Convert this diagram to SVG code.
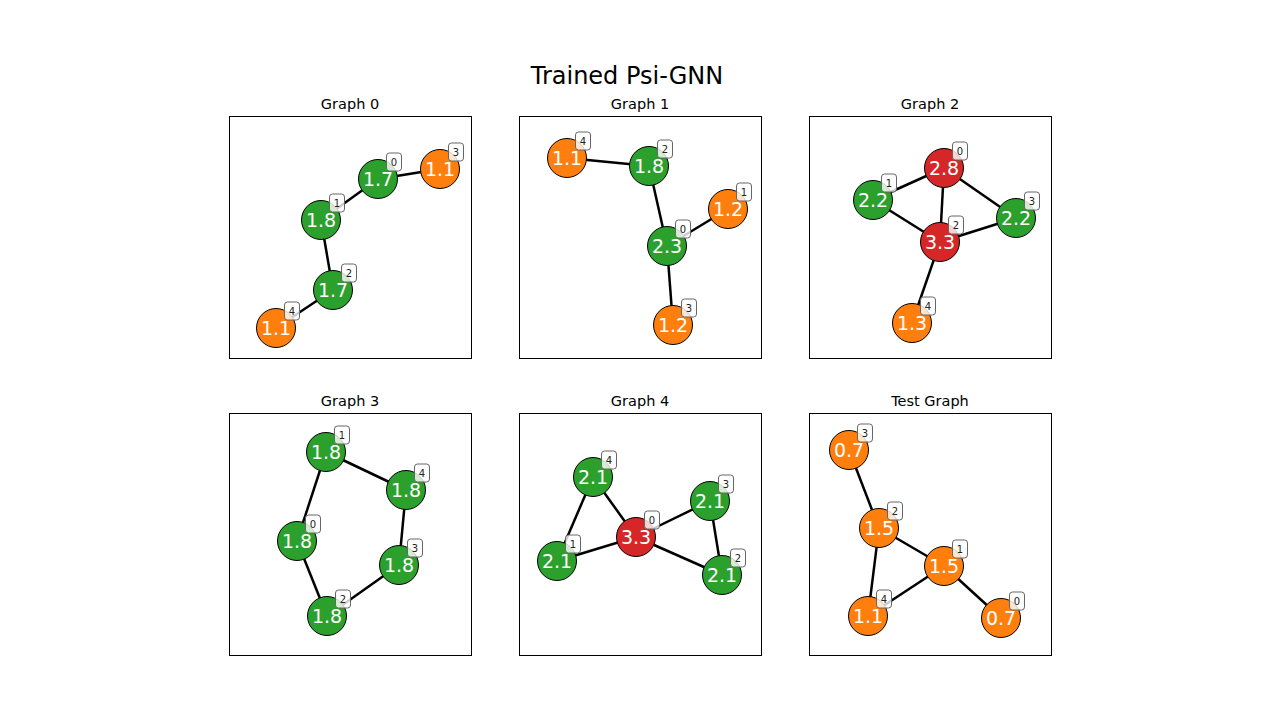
<svg xmlns="http://www.w3.org/2000/svg" width="1280" height="720" viewBox="0 0 1280 720">
<style>
text{font-family:"DejaVu Sans","Liberation Sans",sans-serif}
.ttl{font-size:24px;fill:#000;text-anchor:middle}
.sub{font-size:14.5px;fill:#000;text-anchor:middle}
.ax{fill:#fff;stroke:#000;stroke-width:1}
.e{stroke:#000;stroke-width:2.5;fill:none}
.n circle{stroke:#000;stroke-width:1}
.g{fill:#2ca02c}.o{fill:#ff7f0e}.r{fill:#d62728}
.v{font-size:19px;fill:#fff;text-anchor:middle;dominant-baseline:central}
.ib{fill:#fff;fill-opacity:0.8;stroke:#666;stroke-width:1}
.it{font-size:10px;fill:#222;text-anchor:middle;dominant-baseline:central}
</style>
<rect width="1280" height="720" fill="#fff"/>
<text class="ttl" x="627" y="84">Trained Psi-GNN</text>
<g id="axes">
<rect class="ax" x="229.5" y="116.5" width="242" height="242"/>
<rect class="ax" x="519.5" y="116.5" width="242" height="242"/>
<rect class="ax" x="809.5" y="116.5" width="242" height="242"/>
<rect class="ax" x="229.5" y="413.5" width="242" height="242"/>
<rect class="ax" x="519.5" y="413.5" width="242" height="242"/>
<rect class="ax" x="809.5" y="413.5" width="242" height="242"/>
<text class="sub" x="350" y="109">Graph 0</text>
<text class="sub" x="640" y="109">Graph 1</text>
<text class="sub" x="930" y="109">Graph 2</text>
<text class="sub" x="350" y="406">Graph 3</text>
<text class="sub" x="640" y="406">Graph 4</text>
<text class="sub" x="930" y="406">Test Graph</text>
</g>
<g id="connectors">
<!-- Graph 0 -->
<line class="e" x1="378" y1="179" x2="440" y2="169"/>
<line class="e" x1="378" y1="179" x2="321" y2="220"/>
<line class="e" x1="321" y1="220" x2="333" y2="290"/>
<line class="e" x1="333" y1="290" x2="276" y2="328"/>
<!-- Graph 1 -->
<line class="e" x1="567" y1="158" x2="649" y2="166"/>
<line class="e" x1="649" y1="166" x2="667" y2="246"/>
<line class="e" x1="667" y1="246" x2="728" y2="209"/>
<line class="e" x1="667" y1="246" x2="673" y2="325"/>
<!-- Graph 2 -->
<line class="e" x1="873" y1="200" x2="944" y2="168"/>
<line class="e" x1="944" y1="168" x2="1016" y2="218"/>
<line class="e" x1="944" y1="168" x2="940" y2="242"/>
<line class="e" x1="873" y1="200" x2="940" y2="242"/>
<line class="e" x1="940" y1="242" x2="1016" y2="218"/>
<line class="e" x1="940" y1="242" x2="912" y2="323"/>
<!-- Graph 3 -->
<line class="e" x1="326" y1="452" x2="297" y2="541"/>
<line class="e" x1="326" y1="452" x2="406" y2="490"/>
<line class="e" x1="406" y1="490" x2="399" y2="565"/>
<line class="e" x1="399" y1="565" x2="327" y2="616"/>
<line class="e" x1="297" y1="541" x2="327" y2="616"/>
<!-- Graph 4 -->
<line class="e" x1="593" y1="477" x2="557" y2="561"/>
<line class="e" x1="593" y1="477" x2="636" y2="537"/>
<line class="e" x1="557" y1="561" x2="636" y2="537"/>
<line class="e" x1="636" y1="537" x2="710" y2="501"/>
<line class="e" x1="636" y1="537" x2="722" y2="575"/>
<line class="e" x1="710" y1="501" x2="722" y2="575"/>
<!-- Test Graph -->
<line class="e" x1="849" y1="450" x2="879" y2="528"/>
<line class="e" x1="879" y1="528" x2="944" y2="566"/>
<line class="e" x1="879" y1="528" x2="868" y2="616"/>
<line class="e" x1="868" y1="616" x2="944" y2="566"/>
<line class="e" x1="944" y1="566" x2="1001" y2="618"/>
</g>
<defs>
<g id="ib"><rect class="ib" x="-7.5" y="-9" width="15" height="18" rx="3"/></g>
</defs>
<!-- Graph 0 nodes -->
<g id="g0n0" class="n"><circle class="g" cx="378" cy="179" r="19.5"/><text class="v" x="378" y="179">1.7</text><use href="#ib" x="394" y="162"/><text class="it" x="394" y="162">0</text></g>
<g id="g0n1" class="n"><circle class="g" cx="321" cy="220" r="19.5"/><text class="v" x="321" y="220">1.8</text><use href="#ib" x="337" y="203"/><text class="it" x="337" y="203">1</text></g>
<g id="g0n2" class="n"><circle class="g" cx="333" cy="290" r="19.5"/><text class="v" x="333" y="290">1.7</text><use href="#ib" x="349" y="273"/><text class="it" x="349" y="273">2</text></g>
<g id="g0n3" class="n"><circle class="o" cx="440" cy="169" r="19.5"/><text class="v" x="440" y="169">1.1</text><use href="#ib" x="456" y="152"/><text class="it" x="456" y="152">3</text></g>
<g id="g0n4" class="n"><circle class="o" cx="276" cy="328" r="19.5"/><text class="v" x="276" y="328">1.1</text><use href="#ib" x="292" y="311"/><text class="it" x="292" y="311">4</text></g>
<!-- Graph 1 nodes -->
<g id="g1n0" class="n"><circle class="g" cx="667" cy="246" r="19.5"/><text class="v" x="667" y="246">2.3</text><use href="#ib" x="683" y="229"/><text class="it" x="683" y="229">0</text></g>
<g id="g1n1" class="n"><circle class="o" cx="728" cy="209" r="19.5"/><text class="v" x="728" y="209">1.2</text><use href="#ib" x="744" y="192"/><text class="it" x="744" y="192">1</text></g>
<g id="g1n2" class="n"><circle class="g" cx="649" cy="166" r="19.5"/><text class="v" x="649" y="166">1.8</text><use href="#ib" x="665" y="149"/><text class="it" x="665" y="149">2</text></g>
<g id="g1n3" class="n"><circle class="o" cx="673" cy="325" r="19.5"/><text class="v" x="673" y="325">1.2</text><use href="#ib" x="689" y="308"/><text class="it" x="689" y="308">3</text></g>
<g id="g1n4" class="n"><circle class="o" cx="567" cy="158" r="19.5"/><text class="v" x="567" y="158">1.1</text><use href="#ib" x="583" y="141"/><text class="it" x="583" y="141">4</text></g>
<!-- Graph 2 nodes -->
<g id="g2n0" class="n"><circle class="r" cx="944" cy="168" r="19.5"/><text class="v" x="944" y="168">2.8</text><use href="#ib" x="960" y="151"/><text class="it" x="960" y="151">0</text></g>
<g id="g2n1" class="n"><circle class="g" cx="873" cy="200" r="19.5"/><text class="v" x="873" y="200">2.2</text><use href="#ib" x="889" y="183"/><text class="it" x="889" y="183">1</text></g>
<g id="g2n2" class="n"><circle class="r" cx="940" cy="242" r="19.5"/><text class="v" x="940" y="242">3.3</text><use href="#ib" x="956" y="225"/><text class="it" x="956" y="225">2</text></g>
<g id="g2n3" class="n"><circle class="g" cx="1016" cy="218" r="19.5"/><text class="v" x="1016" y="218">2.2</text><use href="#ib" x="1032" y="201"/><text class="it" x="1032" y="201">3</text></g>
<g id="g2n4" class="n"><circle class="o" cx="912" cy="323" r="19.5"/><text class="v" x="912" y="323">1.3</text><use href="#ib" x="928" y="306"/><text class="it" x="928" y="306">4</text></g>
<!-- Graph 3 nodes -->
<g id="g3n0" class="n"><circle class="g" cx="297" cy="541" r="19.5"/><text class="v" x="297" y="541">1.8</text><use href="#ib" x="313" y="524"/><text class="it" x="313" y="524">0</text></g>
<g id="g3n1" class="n"><circle class="g" cx="326" cy="452" r="19.5"/><text class="v" x="326" y="452">1.8</text><use href="#ib" x="342" y="435"/><text class="it" x="342" y="435">1</text></g>
<g id="g3n2" class="n"><circle class="g" cx="327" cy="616" r="19.5"/><text class="v" x="327" y="616">1.8</text><use href="#ib" x="343" y="599"/><text class="it" x="343" y="599">2</text></g>
<g id="g3n3" class="n"><circle class="g" cx="399" cy="565" r="19.5"/><text class="v" x="399" y="565">1.8</text><use href="#ib" x="415" y="548"/><text class="it" x="415" y="548">3</text></g>
<g id="g3n4" class="n"><circle class="g" cx="406" cy="490" r="19.5"/><text class="v" x="406" y="490">1.8</text><use href="#ib" x="422" y="473"/><text class="it" x="422" y="473">4</text></g>
<!-- Graph 4 nodes -->
<g id="g4n0" class="n"><circle class="r" cx="636" cy="537" r="19.5"/><text class="v" x="636" y="537">3.3</text><use href="#ib" x="652" y="520"/><text class="it" x="652" y="520">0</text></g>
<g id="g4n1" class="n"><circle class="g" cx="557" cy="561" r="19.5"/><text class="v" x="557" y="561">2.1</text><use href="#ib" x="573" y="544"/><text class="it" x="573" y="544">1</text></g>
<g id="g4n2" class="n"><circle class="g" cx="722" cy="575" r="19.5"/><text class="v" x="722" y="575">2.1</text><use href="#ib" x="738" y="558"/><text class="it" x="738" y="558">2</text></g>
<g id="g4n3" class="n"><circle class="g" cx="710" cy="501" r="19.5"/><text class="v" x="710" y="501">2.1</text><use href="#ib" x="726" y="484"/><text class="it" x="726" y="484">3</text></g>
<g id="g4n4" class="n"><circle class="g" cx="593" cy="477" r="19.5"/><text class="v" x="593" y="477">2.1</text><use href="#ib" x="609" y="460"/><text class="it" x="609" y="460">4</text></g>
<!-- Test Graph nodes -->
<g id="g5n0" class="n"><circle class="o" cx="1001" cy="618" r="19.5"/><text class="v" x="1001" y="618">0.7</text><use href="#ib" x="1017" y="601"/><text class="it" x="1017" y="601">0</text></g>
<g id="g5n1" class="n"><circle class="o" cx="944" cy="566" r="19.5"/><text class="v" x="944" y="566">1.5</text><use href="#ib" x="960" y="549"/><text class="it" x="960" y="549">1</text></g>
<g id="g5n2" class="n"><circle class="o" cx="879" cy="528" r="19.5"/><text class="v" x="879" y="528">1.5</text><use href="#ib" x="895" y="511"/><text class="it" x="895" y="511">2</text></g>
<g id="g5n3" class="n"><circle class="o" cx="849" cy="450" r="19.5"/><text class="v" x="849" y="450">0.7</text><use href="#ib" x="865" y="433"/><text class="it" x="865" y="433">3</text></g>
<g id="g5n4" class="n"><circle class="o" cx="868" cy="616" r="19.5"/><text class="v" x="868" y="616">1.1</text><use href="#ib" x="884" y="599"/><text class="it" x="884" y="599">4</text></g>
</svg>
